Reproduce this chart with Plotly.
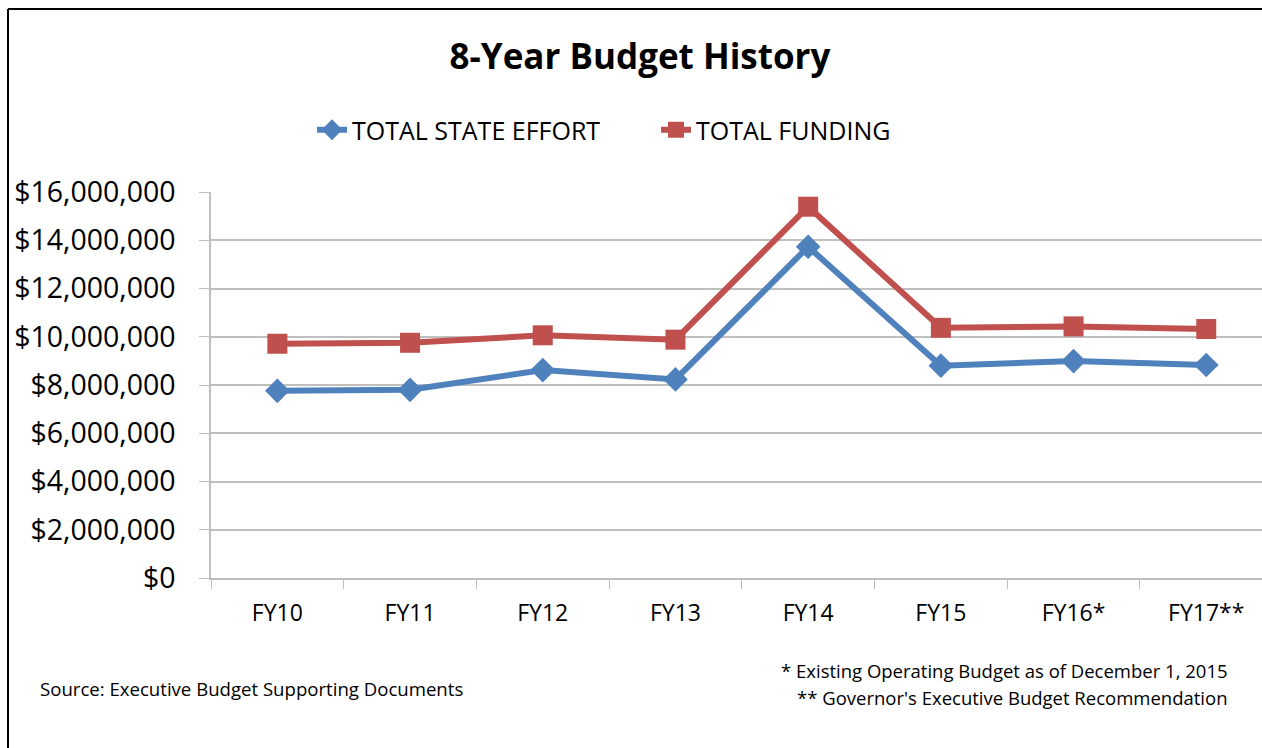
import plotly.graph_objects as go

# ---- data ----
years = ["FY10", "FY11", "FY12", "FY13", "FY14", "FY15", "FY16*", "FY17**"]
total_state_effort = [7760000, 7800000, 8620000, 8230000, 13730000, 8800000, 8990000, 8830000]
total_funding = [9710000, 9750000, 10060000, 9880000, 15390000, 10370000, 10430000, 10320000]

W, H = 1262, 748
L, R, T, B = 211, 0, 192, 170
PW, PH = W - L - R, H - T - B

def px(x):
    return (x - L) / PW

def py(y):
    return (H - B - y) / PH

FONT = "Open Sans"
BLUE = "#4F81BD"
RED = "#C0504D"
GRID = "#BFBFBF"

fig = go.Figure()
fig.add_trace(go.Scatter(
    x=years, y=total_state_effort, name="TOTAL STATE EFFORT",
    mode="lines+markers",
    line=dict(color=BLUE, width=6),
    marker=dict(symbol="diamond", size=19, color=BLUE),
))
fig.add_trace(go.Scatter(
    x=years, y=total_funding, name="TOTAL FUNDING",
    mode="lines+markers",
    line=dict(color=RED, width=6),
    marker=dict(symbol="square", size=20, color=RED),
))

fig.update_layout(
    width=W, height=H,
    margin=dict(l=L, r=R, t=T, b=B),
    paper_bgcolor="white", plot_bgcolor="white",
    font=dict(family=FONT, color="black"),
    title=dict(text="<b>8-Year Budget History</b>", x=640 / W, xanchor="center",
               y=1 - 57 / H, yanchor="middle", font=dict(size=35, family=FONT, color="black")),
    showlegend=True,
    legend=dict(orientation="h", xref="container", yref="container",
                x=312 / W, xanchor="left", y=1 - 130 / H, yanchor="middle",
                font=dict(size=25, family=FONT, color="black"),
                entrywidth=299, entrywidthmode="pixels",
                bgcolor="rgba(0,0,0,0)"),
    xaxis=dict(
        type="category", range=[-0.5, 7.42],
        tickson="boundaries", ticks="outside", ticklen=9, tickcolor=GRID, tickwidth=1,
        showline=True, linecolor=GRID, linewidth=1.5,
        showgrid=False, zeroline=False,
        tickfont=dict(size=23, family=FONT, color="black"),
        ticklabelstandoff=14,
    ),
    yaxis=dict(
        range=[0, 16000000], dtick=2000000, tick0=0,
        tickformat="$,.0f",
        ticks="outside", ticklen=10, tickcolor=GRID, tickwidth=1,
        showline=True, linecolor=GRID, linewidth=1.5,
        showgrid=True, gridcolor=GRID, gridwidth=1.5,
        zeroline=False,
        tickfont=dict(size=28.5, family=FONT, color="black"),
        ticklabelstandoff=18,
    ),
    shapes=[
        dict(type="line", xref="paper", yref="paper", x0=px(8), x1=px(W + 5), y0=py(9), y1=py(9),
             line=dict(color="black", width=2)),
        dict(type="line", xref="paper", yref="paper", x0=px(8), x1=px(8), y0=py(9), y1=py(H + 5),
             line=dict(color="black", width=2)),
    ],
    annotations=[
        dict(text="Source: Executive Budget Supporting Documents", xref="paper", yref="paper",
             x=px(38), y=py(688), xanchor="left", yanchor="middle", showarrow=False,
             font=dict(size=18.6, family=FONT, color="black")),
        dict(text="* Existing Operating Budget as of December 1, 2015", xref="paper", yref="paper",
             x=px(1230), y=py(670), xanchor="right", yanchor="middle", showarrow=False,
             font=dict(size=18.5, family=FONT, color="black")),
        dict(text="** Governor's Executive Budget Recommendation", xref="paper", yref="paper",
             x=px(1230), y=py(697), xanchor="right", yanchor="middle", showarrow=False,
             font=dict(size=18.5, family=FONT, color="black")),
    ],
)

fig.write_html(
    "out.html",
    config={"displayModeBar": False},
    post_script="document.body.style.margin='0px';document.body.style.overflow='hidden';",
)
